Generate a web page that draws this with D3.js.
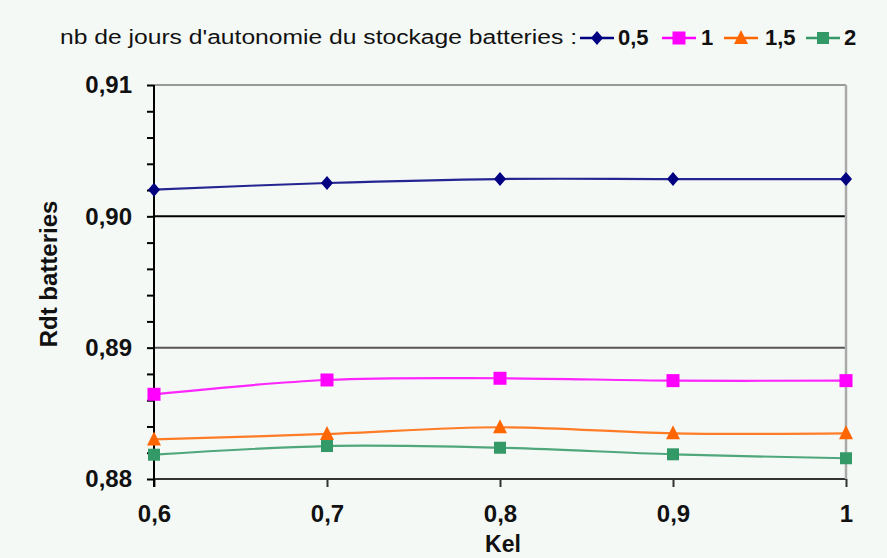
<!DOCTYPE html>
<html><head><meta charset="utf-8">
<script src="https://cdn.jsdelivr.net/npm/d3@7"></script>
<style>
html,body{margin:0;padding:0;background:#f5f9f6;}
svg{display:block;}
text{font-family:"Liberation Sans",Arial,sans-serif;fill:#111;}
</style></head>
<body>
<script>
// ---- data ----
const kel = [0.6, 0.7, 0.8, 0.9, 1];
const seriesNames = ["0,5", "1", "1,5", "2"];
const rdt05 = [0.90203, 0.90254, 0.90284, 0.90284, 0.90284];
const rdt1  = [0.88645, 0.88754, 0.88767, 0.88749, 0.88749];
const rdt15 = [0.88301, 0.88343, 0.88394, 0.88348, 0.88348];
const rdt2  = [0.88185, 0.88251, 0.88238, 0.88188, 0.88158];
const xTickValues = [0.6, 0.7, 0.8, 0.9, 1];
const xTickLabels = ["0,6", "0,7", "0,8", "0,9", "1"];
const yTickValues = [0.88, 0.89, 0.90, 0.91];
const yTickLabels = ["0,88", "0,89", "0,90", "0,91"];
const yMinorValues = [0.882, 0.884, 0.886, 0.888, 0.892, 0.894, 0.896, 0.898, 0.902, 0.904, 0.906, 0.908];
const legendTitle = "nb de jours d'autonomie du stockage batteries :";
const xTitle = "Kel";
const yTitle = "Rdt batteries";

const colors = ["#000080", "#ff00ff", "#ff6600", "#339966"];
const shapes = ["diamond", "square", "triangle", "square2"];
const allSeries = [rdt05, rdt1, rdt15, rdt2];

const W = 887, H = 558;
const svg = d3.select("body").append("svg").attr("width", W).attr("height", H);
svg.append("rect").attr("width", W).attr("height", H).attr("fill", "#f5f9f6");

const x = d3.scaleLinear().domain([0.6, 1]).range([154, 846]);
const y = d3.scaleLinear().domain([0.88, 0.91]).range([479, 85]);

// gridlines
const gridColor = {"0.88": "#333", "0.89": "#555", "0.90": "#000", "0.91": "#999"};
svg.append("g").selectAll("line").data(yTickValues).join("line")
  .attr("x1", x(0.6)).attr("x2", x(1))
  .attr("y1", d => y(d)).attr("y2", d => y(d))
  .attr("stroke", d => gridColor[d.toFixed(2)] || "#666")
  .attr("stroke-width", 2);
// right border
svg.append("line").attr("x1", x(1)).attr("x2", x(1)).attr("y1", y(0.91)).attr("y2", y(0.88))
  .attr("stroke", "#aaa").attr("stroke-width", 2.5);

// y axis
const yAxis = d3.axisLeft(y).tickValues(yTickValues).tickSize(7).tickPadding(15)
  .tickFormat((d, i) => yTickLabels[i]);
const gy = svg.append("g").attr("transform", `translate(${x(0.6)},0)`).call(yAxis);
gy.select(".domain").remove();
gy.selectAll(".tick line").attr("stroke", "#000").attr("stroke-width", 2);
gy.selectAll(".tick text").attr("font-size", 24).attr("font-weight", "bold").attr("fill", "#111")
  .attr("font-family", '"Liberation Sans",Arial,sans-serif');
const yMinor = d3.axisLeft(y).tickValues(yMinorValues).tickSize(7).tickFormat("");
const gym = svg.append("g").attr("transform", `translate(${x(0.6)},0)`).call(yMinor);
gym.select(".domain").remove();
gym.selectAll(".tick line").attr("stroke", "#000").attr("stroke-width", 2);

// x axis
const xAxis = d3.axisBottom(x).tickValues(xTickValues).tickSize(8).tickPadding(18)
  .tickFormat((d, i) => xTickLabels[i]);
const gx = svg.append("g").attr("transform", `translate(0,${y(0.88)})`).call(xAxis);
gx.select(".domain").remove();
gx.selectAll(".tick line").attr("stroke", "#333").attr("stroke-width", 2);
gx.selectAll(".tick text").attr("font-size", 24).attr("font-weight", "bold").attr("fill", "#111")
  .attr("font-family", '"Liberation Sans",Arial,sans-serif');
// y axis line
svg.append("line").attr("x1", x(0.6)).attr("x2", x(0.6)).attr("y1", y(0.91)).attr("y2", y(0.88) + 8)
  .attr("stroke", "#000").attr("stroke-width", 2);

// titles
svg.append("text").attr("x", (x(0.6) + x(1)) / 2 + 3).attr("y", 552).attr("text-anchor", "middle")
  .attr("font-size", 23).attr("font-weight", "bold").text(xTitle);
svg.append("text").attr("transform", `translate(57,274) rotate(-90)`).attr("text-anchor", "middle")
  .attr("font-size", 24).attr("font-weight", "bold").text(yTitle);

// marker drawing
function marker(g, shape, color, cx, cy) {
  if (shape === "diamond") {
    g.append("path").attr("d", `M${cx},${cy-7}L${cx+6},${cy}L${cx},${cy+7}L${cx-6},${cy}Z`).attr("fill", color);
  } else if (shape === "square") {
    g.append("rect").attr("x", cx-6.5).attr("y", cy-6.5).attr("width", 13).attr("height", 13).attr("fill", color);
  } else if (shape === "triangle") {
    g.append("path").attr("d", `M${cx},${cy-8}L${cx+7},${cy+6}L${cx-7},${cy+6}Z`).attr("fill", color);
  } else {
    g.append("rect").attr("x", cx-6).attr("y", cy-6).attr("width", 12).attr("height", 12).attr("fill", color);
  }
}

// lines
const line = d3.line().x(d => x(d[0])).y(d => y(d[1])).curve(d3.curveCatmullRom.alpha(0));
allSeries.forEach((vals, si) => {
  const pts = kel.map((k, i) => [k, vals[i]]);
  svg.append("path").datum(pts).attr("d", line).attr("fill", "none")
    .attr("stroke", colors[si]).attr("stroke-width", 2.2).attr("stroke-opacity", 0.85);
  const g = svg.append("g");
  pts.forEach(p => marker(g, shapes[si], colors[si], x(p[0]), y(p[1])));
});

// legend
svg.append("text").attr("x", 60).attr("y", 44).attr("font-size", 20)
  .attr("textLength", 517).attr("lengthAdjust", "spacingAndGlyphs").text(legendTitle);
const legX = [580, 662, 724, 806];
const legLabelX = [618, 701, 765, 844];
seriesNames.forEach((nm, i) => {
  const g = svg.append("g");
  g.append("line").attr("x1", legX[i]).attr("x2", legX[i] + 34).attr("y1", 38).attr("y2", 38)
    .attr("stroke", colors[i]).attr("stroke-width", 2.5);
  marker(g, shapes[i], colors[i], legX[i] + 17, 38);
  g.append("text").attr("x", legLabelX[i]).attr("y", 45).attr("font-size", 22)
    .attr("font-weight", "bold").text(nm);
});
</script>
</body></html>
